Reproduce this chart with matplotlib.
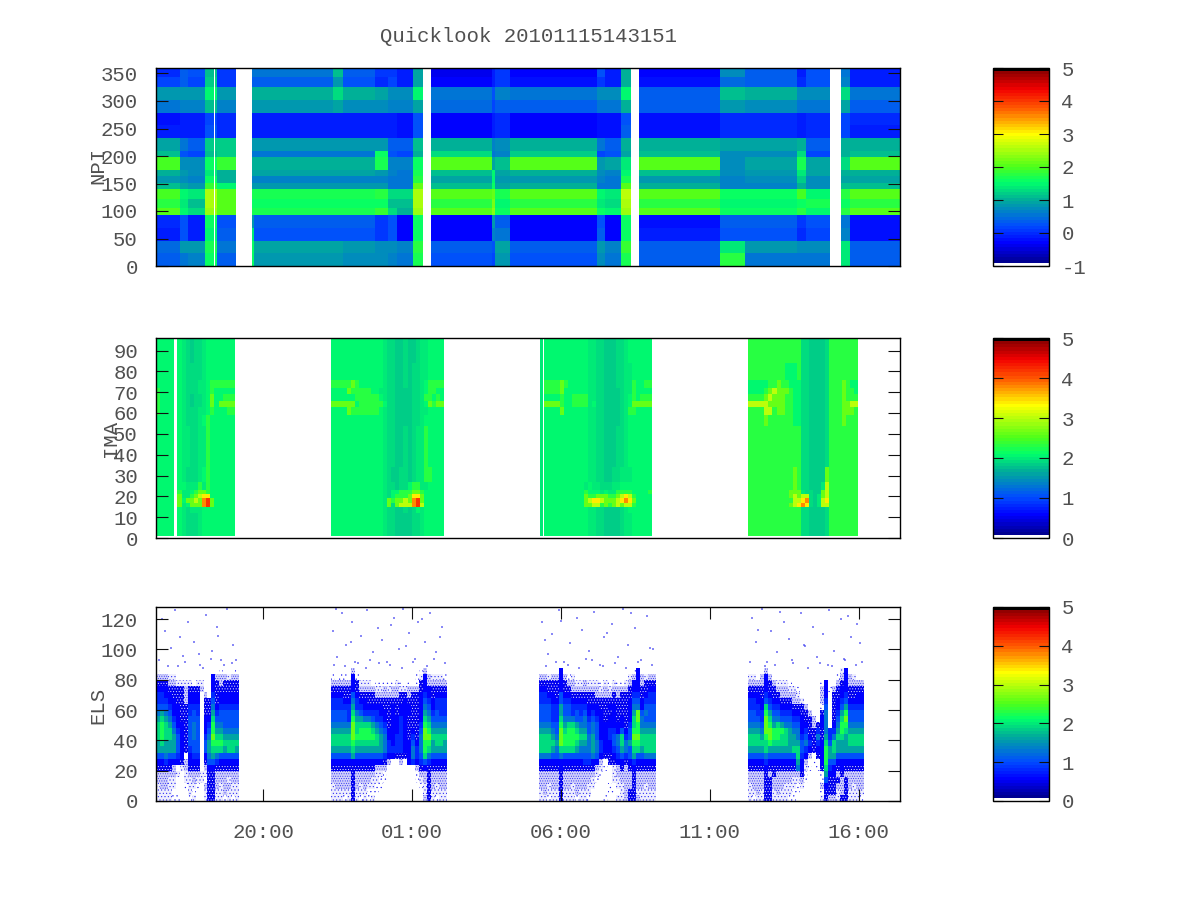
import numpy as np
import matplotlib
matplotlib.use('Agg')
import matplotlib.pyplot as plt
from matplotlib.colors import LinearSegmentedColormap, ListedColormap
from matplotlib.patches import Rectangle

TITLE = 'Quicklook 20101115143151'
X_TICKS = [20, 25, 30, 35, 40]
X_LABELS = ['20:00', '01:00', '06:00', '11:00', '16:00']
X_RANGE = (16.41, 41.38)

# NPI: time edges (hours since 00:00 of first day), sector edges, one column per time slice
NPI_TIMES = [16.41, 17.22, 17.48, 18.05, 18.36, 18.39, 18.46, 19.09, 19.63, 19.70, 22.35, 22.69,
             23.76, 24.20, 24.50, 25.03, 25.37, 25.64, 27.69, 27.79, 28.29, 31.21, 31.48, 32.01,
             32.35, 32.62, 35.20, 35.34, 36.17, 37.92, 38.22, 39.03, 39.40, 39.70, 41.38]
NPI_SECTORS = [0, 23, 46, 70, 93, 105, 122, 140, 151, 163, 175, 198, 209, 233, 256, 279, 302, 325, 343, 360]
GAP = [None] * 19
NPI_A = [.4, .45, -.1, -.05, 2.0, 1.75, 1.98, 1.1, .8, 1.0, 1.98, 1.1, .95, -.15, -.2, .5, .8, .15, .0]
NPI_B = [.5, .8, .3, .3, 1.5, 1.4, 1.5, .9, .7, .85, .75, .3, .5, -.1, -.1, .6, .8, .4, .4]
NPI_B2 = [.6, .8, -.15, -.15, 1.3, 1.15, 1.4, .85, .65, .75, .75, .2, .4, -.15, -.1, .6, .8, .2, .3]
NPI_C = [1.6, 1.7, 1.5, 1.6, 2.4, 2.5, 2.5, 1.9, 1.6, 1.4, 1.6, 1.1, 1.2, .3, .2, 1.1, 1.5, 1.2, 1.1]
NPI_D = [.4, .5, .4, .3, 2.0, 2.0, 2.0, 1.5, 1.0, 1.0, 1.9, 1.2, 1.2, .0, .0, .65, .85, .1, .1]
NPI_E = [1.6, 1.6, 1.4, .8, 1.7, 1.55, 1.65, .85, .65, .95, 1.0, .55, .85, -.1, -.1, .8, 1.0, .4, .5]
NPI_F = [.8, .9, .3, .35, 1.7, 1.55, 1.65, .85, .65, .95, 1.0, .55, .85, -.1, -.1, .8, 1.0, .4, .5]
NPI_F1 = [.8, .9, .3, .35, 1.7, 1.55, 1.65, .85, .65, .95, 1.0, .55, .85, -.1, -.1, .95, 1.25, .85, 1.15]
NPI_F2 = [.75, .85, .3, .35, 1.7, 1.55, 1.65, .85, .65, .95, 1.0, .55, .85, -.1, -.1, .75, 1.0, .3, .35]
NPI_G = [.7, .75, .1, .1, 1.9, 1.6, 1.8, .85, .65, .85, 1.7, 1.6, .85, -.15, -.15, .7, .95, .0, .1]
NPI_H = [.6, .7, .3, .3, 1.25, 1.15, 1.25, .55, .5, .65, .65, .3, .4, -.1, -.15, .6, .7, .15, .1]
NPI_I = [.55, .6, -.3, -.3, 1.0, 1.15, 1.25, .5, .5, .55, .65, .2, .4, -.2, -.25, .65, .75, -.1, -.1]
NPI_J = [1.7, 1.8, 1.6, 1.6, 2.4, 2.5, 2.55, 2.1, 1.8, 1.7, 1.55, 1.05, 1.1, .3, .3, .95, 1.5, .95, .95]
NPI_K = [.3, .4, -.3, -.3, 2.05, 1.75, 2.0, 1.1, .9, 1.1, 2.05, 1.25, 1.05, -.3, -.3, .45, .5, -.3, -.35]
NPI_L = [.2, .3, .6, .8, 2.3, 2.2, 2.1, 1.6, 1.5, 1.5, .95, .5, .6, -.1, -.1, .2, .3, -.1, -.1]
NPI_M = [.8, .95, .5, .4, 1.6, 1.5, 1.7, .95, .85, .95, 1.1, .65, .75, .0, .0, .4, .65, .1, .1]
NPI_K2 = [.3, .4, -.3, -.3, 2.05, 1.75, 2.05, 1.05, .85, 1.05, 2.05, 1.2, 1.05, -.3, -.3, .4, .5, -.2, -.3]
NPI_N = [.7, .8, .4, .3, 1.55, 1.4, 1.5, .5, .65, .75, .85, .2, .5, -.2, -.2, .5, .75, .1, .3]
NPI_O = [.5, .6, -.3, -.3, 1.45, 1.3, 1.4, .5, .55, .65, .95, .3, .4, -.2, -.2, .55, .75, -.1, -.1]
NPI_P = [1.7, 1.9, 1.6, 1.55, 2.4, 2.5, 2.6, 2.0, 1.7, 1.5, 1.4, .95, 1.05, .4, .3, 1.05, 1.5, 1.05, 1.05]
NPI_K3 = [.35, .4, -.1, -.2, 2.05, 1.75, 2.0, 1.05, .85, 1.1, 2.05, 1.1, 1.0, -.25, -.25, .35, .4, -.25, -.3]
NPI_Q = [1.75, 1.4, .3, .35, 1.6, 1.5, 1.6, .65, .65, .75, .75, .75, .9, -.05, .0, .85, 1.15, .45, .7]
NPI_Q2 = [.5, .85, .3, .35, 1.6, 1.5, 1.6, .65, .7, .8, .95, .75, .9, -.05, .0, .75, 1.05, .35, .4]
NPI_R = [.5, .7, .0, .1, 1.8, 1.6, 1.95, 1.05, 1.2, 1.4, 1.7, 1.3, 1.05, -.1, -.1, .5, .7, .0, -.1]
NPI_S = [.5, .7, .2, .3, 1.45, 1.7, 1.45, .75, .75, .9, .95, .2, .35, -.05, .0, .55, .75, .3, .3]
NPI_T = [1.4, 1.4, .6, .5, 1.8, 1.6, 1.8, 1.1, .95, 1.05, 1.3, 1.05, 1.05, .15, .15, .95, 1.25, .6, .5]
NPI_K4 = [.4, .4, -.25, -.2, 2.02, 1.78, 2.02, 1.1, .95, 1.05, 2.02, 1.1, 1.05, -.1, -.05, .4, .5, -.1, -.15]
NPI_COLUMNS = [NPI_A, NPI_B, NPI_B2, NPI_C, GAP, NPI_C, NPI_D, GAP, NPI_E, NPI_F, NPI_F1, NPI_F2, NPI_G,
               NPI_H, NPI_I, NPI_J, GAP, NPI_K, NPI_L, NPI_M, NPI_K2, NPI_N, NPI_O, NPI_P, GAP, NPI_K3,
               NPI_K3, NPI_Q, NPI_Q2, NPI_R, NPI_S, GAP, NPI_T, NPI_K4]

# IMA: letters are count levels, rows listed from the top mass bin down
IMA_LEVELS = dict(zip('abcdefghij', [1.8, 1.92, 2.02, 2.1, 2.3, 2.6, 3.0, 3.4, 3.8, 4.2]))
IMA_EDGES = [96, 84, 76, 72, 69, 66, 63, 59, 54, 44, 34, 27, 23, 21, 19, 17, 15, 12, 1]
IMA_SPANS = [(16.41, 17.03), (17.13, 19.06), (22.28, 26.07), (29.30, 29.40), (29.43, 33.05), (36.28, 39.97)]
IMA_W1A = ['ddddd', 'ddddd', 'ddddd', 'edddd', 'edddd', 'edddd', 'edddd', 'ddddd', 'ddddd',
           'ddddd', 'ddddd', 'ddddd', 'ddddd', 'ddddd', 'ddddd', 'ddddd', 'ddddd', 'ddddd']
IMA_W1B = ['dcbabbc ddddddd', 'dcbbbbc ddddddd', 'dcbbbcc deeeeee', 'dcbbbcc deddddd', 'dcbabbc dfddeee',
           'dcbabbc dfdffff', 'dcbbbcc dedddee', 'dcbbbcd edddddd', 'dccbbcc edddddd', 'dccbbcc edddddd',
           'dcbbbcd edddddd', 'ddcccec edddddd', 'eccdeff edddddd', 'fccefgh hdddddd', 'fdffgfi jfddddd',
           'fcdfffi jfddddd', 'dcbcccd ddddddd', 'dcbbbcd ddddddd']
IMA_W2 = ['ddddddd ddddddc bbaabaa bccdddd', 'ddddddd ddddddc bbaabab bccdddd', 'eeeeefe ddddddc bbaabab bcdeeee',
          'ddddfee eeeddcc bbaaaab bcdeedd', 'dddddde eeeeedc bbaaaab bceeded', 'ffffffd eeeeeed bbaaaab bcdfeff',
          'ddddfee eeeeedc bbaaaab bccdddd', 'ddddddd ddddddc bbaaaab bcddddd', 'ddddddd ddddddc bbaabab ccedddd',
          'ddddddd ddddddc bbaabab ccedddd', 'ddddddd ddddddc baabbab cceeddd', 'ddddddd ddddddc bbabbde eccdddd',
          'ddddddd ddddddc bddeeef feddddd', 'ddddddd ddddddc bdeeefh hfddddd', 'ddddddd ddddddc feffgfi jfddddd',
          'ddddddd ddddddc fbfgggi jgddddd', 'ddddddd ddddddc bbaabab dcddddd', 'ddddddd ddddddc bbaaaab bcddddd']
IMA_W3A = ['c'] * 18
IMA_W3B = ['ddddddd ddddccb baaabbc dddddd', 'ddddddd ddddccb baaabbc cddddd', 'eeeefed ddddccb baaabbc ceddee',
           'eeeefdd ddddccb baaaabc cedddd', 'ddddedd eeeeccb baaaabc dedeee', 'ffffedd eeeecdb baaaabc dfffff',
           'ddddfdd ddddccb baaaabc eedddd', 'ddddddd ddddccb baaaabc dddddd', 'ddddddd ddddccb baaabbc dddddd',
           'ddddddd ddddccb baaabbc dddddd', 'ddddddd ddddccb baabbcc cddddd', 'ddddddd dddcdcc bbbccdd dddddd',
           'ddddddd dddeddd cdcceee edddde', 'ddddddd dddfeef ffeefgh gedddd', 'ddddddd dddfghh gfffghi hfdddd',
           'ddddddd dddffgg efefgfg gedddd', 'ddddddd ddddccb baaaabc dddddd', 'ddddddd ddddccb baaaabc cddddd']
IMA_W4 = ['eeeeeee eeeeeeb baaaabe eeeeee', 'eeeeeee eedddeb baaaabe eeeeee', 'dddddee feedddb baaaabe eefedd',
          'ddddefg fffeddb baaaabe eefeed', 'eeeefgf ffeeddb baaaabe eefeee', 'gggggff ffeeddb baaaabe eeffgg',
          'eeeegge ffeeddb baaaabe eefffe', 'eeeefee eeeeddb baaaabe eefeee', 'eeeeeee eeeeeeb baaaabe eeeeee',
          'eeeeeee eeeeeeb baaaabe eeeeee', 'eeeeeee eeeefeb baaaafe eeeeee', 'eeeeeee eeeefeb baaacge eeeeee',
          'eeeeeee eeefffc bbaafge eeeeee', 'eeeeeee eeefgfg gbacfge eeeeee', 'eeeeeee eeeeggh ibacghe eeeeee',
          'eeeeeee eeefghi hbacgge eeeeee', 'eeeeeee eeeeeeb baaaabe eeeeee', 'eeeeeee eeeeeeb baaaabe eeeeee']
IMA_WINDOWS = [IMA_W1A, IMA_W1B, IMA_W2, IMA_W3A, IMA_W3B, IMA_W4]

# ELS: digits are count levels, p/q/r are sparse single counts, rows from 88 eV bin down
ELS_LEVELS = dict(zip('0123456789', [.5, .62, .8, 1.05, 1.3, 1.6, 1.9, 2.2, 2.6, 3.0]))
ELS_SPARSE = {'p': '....', 'q': '.....', 'r': '.......'}
ELS_SHADE = {'p': 'none', 'q': '#eeeefd', 'r': '#d0d0fa'}
ELS_EDGES = [88, 84, 80, 76, 72, 68, 64, 60, 56, 52, 48, 44, 40, 36, 32, 28, 24, 20, 16, 12, 8, 4, 0]
ELS_SPANS = [(16.41, 19.20), (22.28, 26.17), (29.26, 33.19), (36.28, 40.17)]
ELS_W1 = ['p...... ....... ..p...p', 'rrrqq.. ....... 1rrrqrr', '000rrqq qq.qq.. 10r0000', '1110000 r000r.. 1000000',
          '2211000 r111.r. 2011111', '2221100 r111.00 3011111', '3332110 0222.00 4122222', '4543110 0232.00 5233333',
          '5654210 0333.11 6333333', '6765311 0343.12 7443333', '6766421 0343.13 7554444', '6766531 0343.24 8665555',
          '5655531 0333.35 7776666', '5555531 0233.35 6665665', '3343321 .122.14 5433333', '1121110 r111.03 3211111',
          '0000r.q r000.r1 1000000', 'rrrrrq. qrrrqq0 0rrrrrr', 'rrrqq.. qqrqq.0 0rrrqrr', 'qrrqq.. pqqp.r0 0rqrrqq',
          'qqqq... .qp..q0 0qqrqqq', 'qqqqpp. .pq..q0 0qqpqpq']
ELS_W2 = ['.....r. ....... ....... .pr.....', 'p.pp.1p ....... ....... pq1rqqqp', 'rrrrr10 qqq.ppp ppqp.p. p01rrrrr',
          '0000010 rrrrqqr qrrqqrr r0110000', '1110031 0000rrr rrr00r0 01210111', '2221142 1100000 0000100 01321222',
          '2222252 2111110 0101110 01431222', '3333264 3222211 0101110 01542322', '3333275 5443221 0112100 01653333',
          '4444486 6665432 0112100 02764444', '5555586 7776543 1112101 03875555', '6666687 7777654 1122102 04886666',
          '6666676 6666654 2122113 14775665', '5555565 5555554 2222114 24765555', '3333353 3333332 1100014 23643333',
          '1111111 1111110 r..r.12 12321111', '0000000 0000rrr ....... r0100000', 'rrrrr0r rrrrqqp ....... prr0rrrr',
          'rrrrr0r rrrqqpp ....... pqr0rrrr', 'qrrrr0r qrqqpp. ....... .pq0rqrr', 'qqqqq0q qqppp.. ....... ..q0qqqq',
          'qqqpq0q pqpq... ....... ..r0qpqq']
ELS_W3 = ['.....1. ....... ....... ..p1....', 'rrqrr1r pq..... ....... .qr1rqrr', '0000010 rrqqrqq qpqpqpp qr11r000',
          '1100010 0rrrrrr rqrqrrr r0110011', '2211031 1000000 rrrr0r0 00220122', '2221132 2111100 0000000 01331222',
          '3332253 3222211 1001100 01441333', '3332253 3232312 1100100 01583433', '3332264 4433423 2101101 01684333',
          '4443375 6654434 3111111 02674444', '5554386 7765534 3112213 13775555', '6665487 7776645 3112346 23886666',
          '6666587 7765545 4211346 45776666', '6665466 6654445 4211235 43665666', '4443343 3333334 3100123 23533444',
          '1111111 1111221 1r.0011 01211111', '0000010 0000000 rqp.qr0 r0100000', 'rrrrr0r rrrrrrr qp..qrr rr0rrrrr',
          'rrrrr0r rrrrrrq p...qqr rr0rrrrr', 'rrqrr0r rqrrrqq ...p.qq rr0rrqrr', 'qrqqq0q qqrqqq. ...pp.q r00qqqqq',
          'qqpqq0q qqpqqp. ..p..qq r00rqqqq']
ELS_W4 = ['....r.. ....... ....... ..q1....', 'qq.r1r. ....... ....... .pr1rq..', 'rrrr10r qqqp... ....p1. .r01rrrr',
          '0000100 rrrqqp. ....r1p r0110000', '1110210 0rrrrq. ....r1. 00120011', '2211321 1000rrq ....r2. 01231111',
          '2221632 2111000 r...p3. 01352222', '3322753 3222110 0r..04. 02573333', '3332864 4333221 00r.14. 03683333',
          '4443875 6544331 10r014. 14774444', '5554887 7765441 2002042 25765555', '6665787 7665542 3104052 46656666',
          '6666676 6665553 4202163 65556666', '5555655 5555663 2101175 65555555', '3333433 3333362 1r.0175 53333333',
          '1111211 1111151 r.p.173 31111111', '0000100 0000041 qp.p062 10100000', 'rrrr0r0 rrrrrr0 p...p51 1r0rrrrr',
          'rrrr00r rrrrqqr p...p30 00r0rrrr', 'qrrr00r rrqqqpq ....r10 0rr0rqrr', 'qqrq00q rqqqpp. ....p00 0qr0qqqq',
          'qpqq00q qqqpp.. ....q0r rq00qqqp']
ELS_WINDOWS = [ELS_W1, ELS_W2, ELS_W3, ELS_W4]

# isolated high energy counts
ELS_DOT_T = [16.5, 16.7, 16.9, 17.05, 17.3, 17.5, 17.7, 17.9, 18.1, 18.3, 18.5, 18.6, 18.8, 19.0, 16.6, 17.2, 17.85, 18.45, 18.95,
             16.8, 17.4, 18.0, 18.7, 19.1, 17.15, 18.25,
             22.35, 22.5, 22.65, 22.8, 23.0, 23.2, 23.3, 23.5, 23.7, 23.85, 24.0, 24.15, 24.4, 24.55, 24.7, 24.9, 25.1, 25.2, 25.45, 25.6, 25.8, 26.0, 22.45, 22.95, 23.6, 24.3, 24.8, 25.35, 25.95,
             22.4, 22.75, 23.1, 23.45, 23.9, 24.25, 24.65, 25.05, 25.5, 25.75, 26.1,
             29.35, 29.55, 29.7, 29.95, 30.1, 30.3, 30.55, 30.7, 30.95, 31.1, 31.3, 31.45, 31.7, 31.9, 32.1, 32.25, 32.5, 32.7, 32.9, 33.1, 29.45, 30.0, 30.85, 31.55, 32.35, 33.0,
             29.5, 29.85, 30.25, 30.6, 31.05, 31.4, 31.8, 32.2, 32.6, 33.05,
             36.4, 36.55, 36.75, 36.9, 37.05, 37.25, 37.5, 37.65, 37.8, 38.05, 38.2, 38.45, 38.6, 38.8, 39.0, 39.15, 39.4, 39.55, 39.75, 39.95, 36.6, 37.35, 38.15, 38.95, 39.65, 40.05,
             36.35, 36.85, 37.2, 37.75, 38.3, 38.7, 39.1, 39.5, 39.9, 40.1]
ELS_DOT_E = [93, 112, 101, 126, 96, 118, 105, 90, 123, 99, 109, 93, 127, 103, 120, 108, 97, 115, 91,
             89, 92, 88, 90, 93, 89, 94,
             112, 95, 124, 103, 118, 91, 109, 126, 98, 114, 106, 92, 121, 100, 127, 111, 94, 118, 105, 124, 98, 115, 127, 105, 93, 116, 102, 120, 108,
             90, 89, 92, 88, 91, 90, 88, 92, 89, 94, 91,
             118, 97, 110, 126, 92, 104, 121, 113, 99, 125, 90, 108, 117, 95, 127, 103, 114, 93, 122, 100, 106, 119, 94, 111, 124, 101,
             89, 92, 90, 88, 93, 89, 91, 88, 92, 90,
             121, 105, 127, 92, 112, 98, 118, 107, 91, 124, 102, 115, 95, 110, 126, 99, 120, 93, 108, 117, 113, 125, 103, 90, 122, 104,
             92, 89, 90, 93, 88, 91, 89, 94, 90, 92]

BAR_TICKS_NPI = [-1, 0, 1, 2, 3, 4, 5]
BAR_TICKS = [0, 1, 2, 3, 4, 5]

TEXT_COLOR = '#505050'
plt.rcParams['font.family'] = ['Liberation Mono', 'DejaVu Sans']
plt.rcParams['font.size'] = 14.9
plt.rcParams['axes.unicode_minus'] = False
plt.rcParams['hatch.linewidth'] = .35

anchors = [(0.0, (0, 0, .5)), (.11, (0, 0, 1)), (.2, (0, .3, 1)), (.33, (0, .68, .6)), (.42, (0, 1, .42)),
           (.5, (.3, 1, .1)), (.667, (1, 1, 0)), (.8, (1, .35, 0)), (.9, (.95, 0, 0)), (1.0, (.5, 0, 0))]
base = LinearSegmentedColormap.from_list('ql', anchors, N=64)
palette = base(np.arange(64))
palette[0] = (1, 1, 1, 1)
palette[63] = (0, 0, 0, 1)
cmap = ListedColormap(palette)


def grid(rows):
    rows = [r.replace(' ', '') for r in rows]
    width = max(len(r) for r in rows)
    return [r.ljust(width, r[-1]) for r in rows]


def px_axes(left, top, right, bottom):
    return fig.add_axes([left / 1200, 1 - bottom / 900, (right - left) / 1200, (bottom - top) / 900])


def style(ax, limit, ticks):
    ax.set_xlim(*X_RANGE)
    ax.set_ylim(0, limit)
    ax.set_yticks(ticks)
    ax.set_xticks([])
    ax.tick_params(axis='y', direction='in', length=8.6, width=.8, left=True, right=True, pad=13,
                   labelcolor=TEXT_COLOR, color='#111111')
    for label in ax.get_yticklabels():
        label.set_va('center_baseline')
    for s in ax.spines.values():
        s.set_linewidth(1.0)


def add_bar(mesh, top, bottom, ticks):
    cax = px_axes(993, top, 1049, bottom)
    bar = fig.colorbar(mesh, cax=cax, ticks=ticks)
    bar.outline.set_linewidth(1.0)
    cax.tick_params(direction='in', length=7.2, width=.8, left=True, right=True, pad=9,
                    labelcolor=TEXT_COLOR, color='#111111')
    for label in cax.get_yticklabels():
        label.set_va('center_baseline')
    return bar


fig = plt.figure(figsize=(12, 9), dpi=100)

# NPI panel
ax1 = px_axes(156, 68, 900, 266)
npi = np.array(NPI_COLUMNS, dtype=float).T
mesh1 = ax1.pcolormesh(NPI_TIMES, NPI_SECTORS, npi, cmap=cmap, vmin=-1, vmax=5, shading='flat', antialiased=False)
style(ax1, 360, [0, 50, 100, 150, 200, 250, 300, 350])
add_bar(mesh1, 68, 266, BAR_TICKS_NPI)

# IMA panel
ax2 = px_axes(156, 338, 900, 538)
for (start, end), rows in zip(IMA_SPANS, IMA_WINDOWS):
    rows = grid(rows)
    z = np.array([[IMA_LEVELS[c] for c in r] for r in rows])
    mesh2 = ax2.pcolormesh(np.linspace(start, end, z.shape[1] + 1), IMA_EDGES, z, cmap=cmap, vmin=0, vmax=5,
                           shading='flat', antialiased=False)
style(ax2, 96, [0, 10, 20, 30, 40, 50, 60, 70, 80, 90])
add_bar(mesh2, 338, 538, BAR_TICKS)

# ELS panel
ax3 = px_axes(156, 607, 900, 801)
for (start, end), rows in zip(ELS_SPANS, ELS_WINDOWS):
    rows = grid(rows)
    edges = np.linspace(start, end, len(rows[0]) + 1)
    z = np.array([[ELS_LEVELS.get(c, np.nan) for c in r] for r in rows])
    mesh3 = ax3.pcolormesh(edges, ELS_EDGES, z, cmap=cmap, vmin=0, vmax=5, shading='flat', antialiased=False)
    # sparse bins are stippled like the single counts, weakest bins get white holes
    for i, r in enumerate(rows):
        for j, c in enumerate(r):
            corner = (edges[j], ELS_EDGES[i + 1])
            w, h = edges[j + 1] - edges[j], ELS_EDGES[i] - ELS_EDGES[i + 1]
            if c in ELS_SPARSE:
                ax3.add_patch(Rectangle(corner, w, h, facecolor=ELS_SHADE[c], edgecolor='#1a1af5',
                                        hatch=ELS_SPARSE[c], linewidth=0))
            elif c == '0':
                ax3.add_patch(Rectangle(corner, w, h, facecolor='none', edgecolor='white',
                                        hatch='......', linewidth=0))
ax3.scatter(ELS_DOT_T, ELS_DOT_E, s=2.5, marker='s', color='#3a3af0', alpha=.6, linewidths=0)
style(ax3, 128, [0, 20, 40, 60, 80, 100, 120])
ax3.set_xticks(X_TICKS)
ax3.set_xticklabels(X_LABELS)
ax3.tick_params(axis='x', direction='in', length=8.6, width=.8, top=True, bottom=True, pad=16,
                labelcolor=TEXT_COLOR, color='#111111')
add_bar(mesh3, 607, 801, BAR_TICKS)

fig.text(528 / 1200, 1 - 37 / 900, TITLE, ha='center', va='center', color=TEXT_COLOR)
fig.text(98 / 1200, 1 - 165 / 900, 'NPI', rotation=90, ha='center', va='center', color=TEXT_COLOR)
fig.text(111 / 1200, 1 - 438 / 900, 'IMA', rotation=90, ha='center', va='center', color=TEXT_COLOR)
fig.text(98 / 1200, 1 - 705 / 900, 'ELS', rotation=90, ha='center', va='center', color=TEXT_COLOR)

fig.savefig('out.png', dpi=100)
